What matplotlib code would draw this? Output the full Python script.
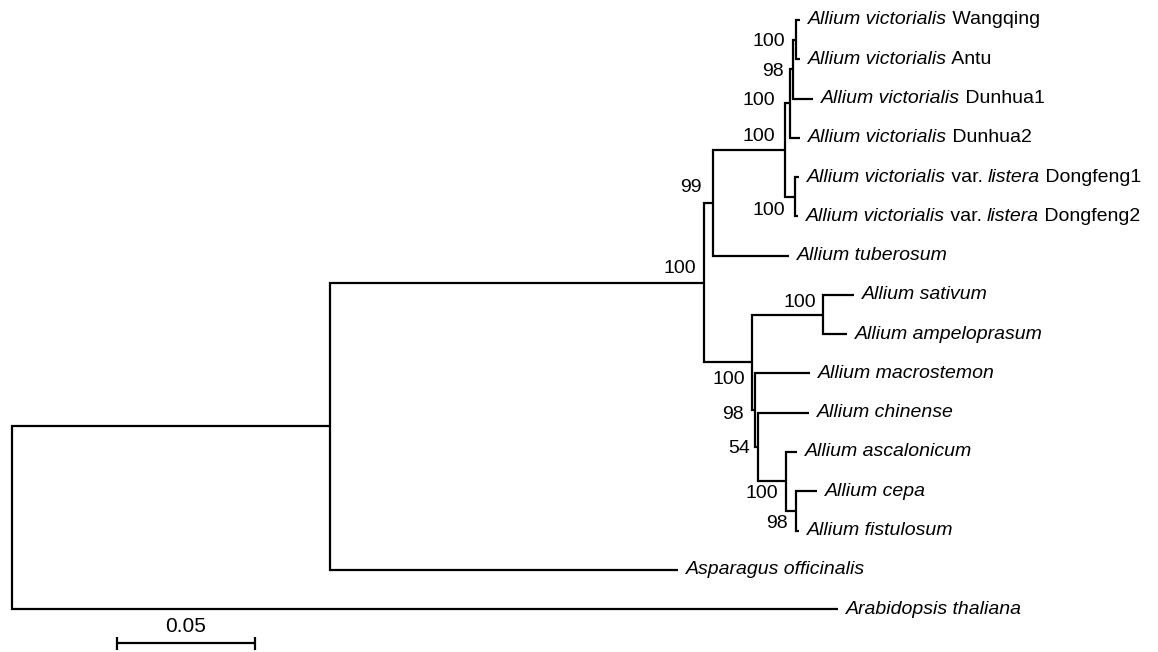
import matplotlib
matplotlib.use("Agg")
import matplotlib.pyplot as plt

plt.rcParams['font.family'] = ['Liberation Sans', 'DejaVu Sans']

# ---------------- data ----------------
# leaves in display order (top to bottom)
leaf_ids = ["Wangqing", "Antu", "Dunhua1", "Dunhua2", "Dongfeng1", "Dongfeng2",
            "tuberosum", "sativum", "ampeloprasum", "macrostemon", "chinense",
            "ascalonicum", "cepa", "fistulosum", "Asparagus", "Arabidopsis"]
# label pieces: (text, style) ; 'i' italic, 'n' normal
leaf_labels = [
    [("Allium victorialis", "i"), (" Wangqing", "n")],
    [("Allium victorialis", "i"), (" Antu", "n")],
    [("Allium victorialis", "i"), (" Dunhua1", "n")],
    [("Allium victorialis", "i"), (" Dunhua2", "n")],
    [("Allium victorialis", "i"), (" var. ", "n"), ("listera", "i"), (" Dongfeng1", "n")],
    [("Allium victorialis", "i"), (" var. ", "n"), ("listera", "i"), (" Dongfeng2", "n")],
    [("Allium tuberosum", "i")],
    [("Allium sativum", "i")],
    [("Allium ampeloprasum", "i")],
    [("Allium macrostemon", "i")],
    [("Allium chinense", "i")],
    [("Allium ascalonicum", "i")],
    [("Allium cepa", "i")],
    [("Allium fistulosum", "i")],
    [("Asparagus officinalis", "i")],
    [("Arabidopsis thaliana", "i")],
]

# tree edges: child, parent, branch length (substitutions/site)
edge_child = ["I", "Arabidopsis", "AL", "Asparagus", "N99", "A", "V", "tuberosum",
              "W", "DF", "X", "Dunhua2", "Y", "Dunhua1", "Wangqing", "Antu",
              "Dongfeng1", "Dongfeng2", "SA", "B", "sativum", "ampeloprasum",
              "macrostemon", "C", "chinense", "D", "ascalonicum", "E", "cepa", "fistulosum"]
edge_parent = ["root", "root", "I", "I", "AL", "AL", "N99", "N99",
               "V", "V", "W", "W", "X", "X", "Y", "Y",
               "DF", "DF", "A", "A", "SA", "SA",
               "B", "B", "C", "C", "D", "D", "E", "E"]
edge_length = [0.1150, 0.2986, 0.1352, 0.1258, 0.0033, 0.0172, 0.0260, 0.0275,
               0.0018, 0.0036, 0.0011, 0.0036, 0.0011, 0.0072, 0.0014, 0.0014,
               0.0014, 0.0011, 0.0258, 0.0011, 0.0112, 0.0087,
               0.0201, 0.0013, 0.0184, 0.0101, 0.0040, 0.0036, 0.0076, 0.0011]

# bootstrap support for internal nodes
support_nodes = ["AL", "N99", "V", "W", "X", "Y", "DF", "SA", "A", "B", "C", "D", "E"]
support_values = [100, 99, 100, 100, 98, 100, 100, 100, 100, 98, 54, 100, 98]

scale_length = 0.05
scale_label = "0.05"

# ---------------- style: label offsets (points) ----------------
sup_offset = {"AL": (-6, 10), "N99": (-8, 11), "V": (-7, 10), "W": (-11, 2),
              "X": (-7, -2), "Y": (-8, -1), "DF": (-7, -10), "SA": (-5, 9),
              "A": (-5, -12), "B": (-8, -3), "C": (-6, -1), "D": (-6, -9),
              "E": (-6, -9)}
FS = 14

# ---------------- layout ----------------
children = {}
blen = {}
for c, p, L in zip(edge_child, edge_parent, edge_length):
    children.setdefault(p, []).append(c)
    blen[c] = L

xpos = {"root": 0.0}
def set_x(n):
    for c in children.get(n, []):
        xpos[c] = xpos[n] + blen[c]
        set_x(c)
set_x("root")

ypos = {n: i for i, n in enumerate(leaf_ids)}
def set_y(n):
    if n in ypos:
        return ypos[n]
    ys = [set_y(c) for c in children[n]]
    ypos[n] = (min(ys) + max(ys)) / 2
    return ypos[n]
set_y("root")

W, H = 1158, 652
fig = plt.figure(figsize=(W / 100, H / 100), dpi=100)
ax = fig.add_axes([0, 0, 1, 1])
ppu = 2766.0  # px per unit
x0px = 12.0
ax.set_xlim(-x0px / ppu, (W - x0px) / ppu)
y0px, dy = 20.0, 39.27
ax.set_ylim((H - y0px) / dy, -y0px / dy)
ax.axis("off")

lw = 1.6
kw = dict(color="black", lw=lw, solid_joinstyle="miter", solid_capstyle="butt")
for n, ch in children.items():
    ys = [ypos[c] for c in ch]
    xn = xpos[n]
    c_top = ch[ys.index(min(ys))]
    c_bot = ch[ys.index(max(ys))]
    ax.plot([xpos[c_top], xn, xn, xpos[c_bot]],
            [ypos[c_top], ypos[c_top], ypos[c_bot], ypos[c_bot]], **kw)
    for c in ch:
        if c not in (c_top, c_bot):
            ax.plot([xn, xpos[c]], [ypos[c], ypos[c]], **kw)

style_map = {"i": "italic", "n": "normal"}
for n, pieces in zip(leaf_ids, leaf_labels):
    txt, st = pieces[0]
    t = ax.annotate(txt, (xpos[n], ypos[n]), xytext=(5.5, 0), textcoords="offset points",
                    ha="left", va="center", fontsize=FS, fontstyle=style_map[st])
    for txt, st in pieces[1:]:
        t = ax.annotate(txt, xy=(1, 0.5), xycoords=t, ha="left", va="center",
                        fontsize=FS, fontstyle=style_map[st])

for n, v in zip(support_nodes, support_values):
    dxp, dyp = sup_offset[n]
    ax.annotate(str(v), (xpos[n], ypos[n]), xytext=(dxp, dyp), textcoords="offset points",
                ha="right", va="center", fontsize=FS)

# scale bar
sb_x = (116.7 - x0px) / ppu
sb_y = (643 - y0px) / dy
tick = 6.5 / dy
ax.plot([sb_x, sb_x + scale_length], [sb_y, sb_y], **kw)
ax.plot([sb_x, sb_x], [sb_y - tick, sb_y + tick], **kw)
ax.plot([sb_x + scale_length, sb_x + scale_length], [sb_y - tick, sb_y + tick], **kw)
ax.text(sb_x + scale_length / 2, (627 - y0px) / dy, scale_label, ha="center", va="center",
        fontsize=15)

fig.savefig("out.png", dpi=100)
